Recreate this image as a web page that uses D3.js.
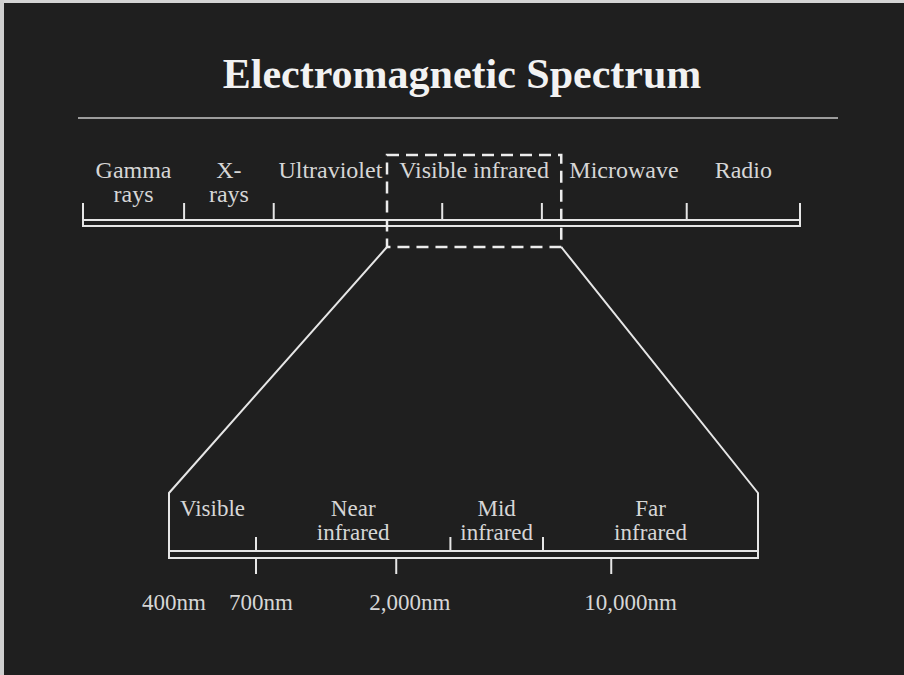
<!DOCTYPE html>
<html>
<head>
<meta charset="utf-8">
<script src="https://cdn.jsdelivr.net/npm/d3@7"></script>
<style>
  body { margin: 0; background: #1f1f1f; }
  text { font-family: "Liberation Serif", "Times New Roman", serif; }
</style>
</head>
<body>
<script>
// top bar: schematic position 0..100 along the whole spectrum
let topBands = [['Gamma', 'rays'], ['X-', 'rays'], ['Ultraviolet'], ['Visible infrared'], ['Microwave'], ['Radio']]
let topEdges = [0, 14.1, 26.6, 42.4, 66.7, 84.2, 100]
let topInnerTicks = [14.1, 26.6, 50.1, 64.0, 84.2]
let zoomBox = [42.4, 66.7]

// bottom bar: wavelength in nm
let irBands = [['Visible'], ['Near', 'infrared'], ['Mid', 'infrared'], ['Far', 'infrared']]
let irEdges = [400, 700, 3000, 6000, 30000]
let irUpTicks = [700, 3000, 6000]
let irDownTicks = [700, 2000, 10000]
let irTickLabels = ['400nm', '700nm', '2,000nm', '10,000nm']
let irTickValues = [400, 700, 2000, 10000]

let w = 904
let h = 675
let lineCol = '#e6e6e6'
let textCol = '#d6d6d6'

let svg = d3.select('body').append('svg').attr('width', w).attr('height', h)

svg.append('rect').attr('width', w).attr('height', h).attr('fill', '#1f1f1f')
// scanned slide edge
svg.append('rect').attr('width', w).attr('height', 3).attr('fill', '#d4d4d4')
svg.append('rect').attr('width', 4).attr('height', h).attr('fill', '#cfcfcf')

svg.append('text')
  .text('Electromagnetic Spectrum')
  .attr('x', 462).attr('y', 88)
  .attr('text-anchor', 'middle')
  .attr('font-size', '42px')
  .attr('font-weight', 'bold')
  .attr('fill', '#f2f2f2')

svg.append('line')
  .attr('x1', 78).attr('x2', 838).attr('y1', 118).attr('y2', 118)
  .attr('stroke', '#9c9c9c').attr('stroke-width', 2)

// ---- top bar
let xTop = d3.scaleLinear().domain([0, 100]).range([83, 800])
let topY1 = 220, topY2 = 226, topTickTop = 203

let gTop = svg.append('g').attr('stroke', lineCol).attr('stroke-width', 2).attr('fill', 'none')
gTop.append('path')
  .attr('d', `M${xTop(0)},${topTickTop}V${topY2}H${xTop(100)}V${topTickTop}`)
gTop.append('line')
  .attr('x1', xTop(0)).attr('x2', xTop(100)).attr('y1', topY1).attr('y2', topY1)
gTop.selectAll('line.tick')
  .data(topInnerTicks)
  .enter()
  .append('line')
  .attr('class', 'tick')
  .attr('x1', d => xTop(d)).attr('x2', d => xTop(d))
  .attr('y1', topTickTop).attr('y2', topY1)

let topLabels = svg.selectAll('text.top')
  .data(topBands)
  .enter()
  .append('text')
  .attr('class', 'top')
  .attr('text-anchor', 'middle')
  .attr('font-size', '24px')
  .attr('fill', textCol)
  .attr('x', (d, i) => (xTop(topEdges[i]) + xTop(topEdges[i + 1])) / 2)
  .attr('y', 178)
topLabels.selectAll('tspan')
  .data(d => d)
  .enter()
  .append('tspan')
  .attr('x', function () { return this.parentNode.getAttribute('x') })
  .attr('dy', (d, i) => i ? 24 : 0)
  .text(d => d)

// ---- bottom bar (log wavelength, piecewise)
let xIr = d3.scaleLog().domain([400, 700, 30000]).range([169, 256, 758])
let boxTop = 155, boxBot = 247
let irTop = 493, irY1 = 551, irY2 = 558

// dashed zoom box
svg.append('rect')
  .attr('x', xTop(zoomBox[0])).attr('y', boxTop)
  .attr('width', xTop(zoomBox[1]) - xTop(zoomBox[0]))
  .attr('height', boxBot - boxTop)
  .attr('fill', 'none')
  .attr('stroke', '#ececec').attr('stroke-width', 2.5)
  .attr('stroke-dasharray', '12,7')

let gIr = svg.append('g').attr('stroke', lineCol).attr('stroke-width', 2).attr('fill', 'none')
// trapezoid linking box to bottom bar
gIr.append('path')
  .attr('d', `M${xTop(zoomBox[0])},${boxBot}L${xIr(400)},${irTop}V${irY2}H${xIr(30000)}V${irTop}L${xTop(zoomBox[1])},${boxBot}`)
gIr.append('line')
  .attr('x1', xIr(400)).attr('x2', xIr(30000)).attr('y1', irY1).attr('y2', irY1)
gIr.selectAll('line.up')
  .data(irUpTicks)
  .enter()
  .append('line')
  .attr('class', 'up')
  .attr('x1', d => xIr(d)).attr('x2', d => xIr(d))
  .attr('y1', 537).attr('y2', irY1)
gIr.selectAll('line.down')
  .data(irDownTicks)
  .enter()
  .append('line')
  .attr('class', 'down')
  .attr('x1', d => xIr(d)).attr('x2', d => xIr(d))
  .attr('y1', irY2).attr('y2', 574)

let irLabels = svg.selectAll('text.ir')
  .data(irBands)
  .enter()
  .append('text')
  .attr('class', 'ir')
  .attr('text-anchor', 'middle')
  .attr('font-size', '23px')
  .attr('fill', textCol)
  .attr('x', (d, i) => (xIr(irEdges[i]) + xIr(irEdges[i + 1])) / 2)
  .attr('y', 516)
irLabels.selectAll('tspan')
  .data(d => d)
  .enter()
  .append('tspan')
  .attr('x', function () { return this.parentNode.getAttribute('x') })
  .attr('dy', (d, i) => i ? 24 : 0)
  .text(d => d)

svg.selectAll('text.tl')
  .data(irTickValues)
  .enter()
  .append('text')
  .attr('class', 'tl')
  .attr('x', d => xIr(d) - 27)
  .attr('y', 610)
  .attr('font-size', '23px')
  .attr('fill', textCol)
  .text((d, i) => irTickLabels[i])
</script>
</body>
</html>
